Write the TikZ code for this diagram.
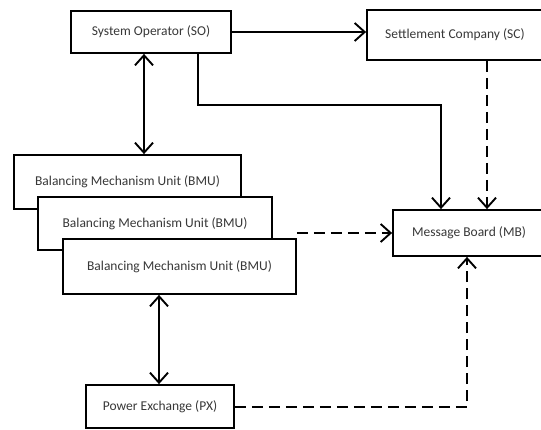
\documentclass[tikz,border=0pt]{standalone}
\usepackage{fontspec}
\setmainfont{Carlito}
\usetikzlibrary{arrows.meta}
\begin{document}
\begin{tikzpicture}[x=1pt,y=-1pt,
  box/.style={draw, fill=white, line width=1.8pt, inner sep=0pt,
    font=\fontsize{13.5}{16}\selectfont, text=black!78},
  link/.style={line width=1.8pt},
  barb/.tip={Straight Barb[length=10pt,width=18pt,line width=1.9pt]},
  tip/.style={-barb},
  twotip/.style={barb-barb},
  dashline/.style={dash pattern=on 11pt off 6pt}]
\useasboundingbox (0,0) rectangle (541,430);
\clip (0,0) rectangle (541,430);

% boxes
\node[box, minimum width=160pt, minimum height=42pt] (SO) at (151,32) {System Operator (SO)};
\node[box, minimum width=176pt, minimum height=50pt] (SC) at (455,35) {Settlement Company (SC)};
\node[box, minimum width=152pt, minimum height=46pt] (MB) at (469,233) {Message Board (MB)};
\node[box, minimum width=227pt, minimum height=54pt] (BMU1) at (127.5,182) {Balancing Mechanism Unit (BMU)};
\node[box, minimum width=234pt, minimum height=53pt] (BMU2) at (155,223.5) {Balancing Mechanism Unit (BMU)};
\node[box, minimum width=233pt, minimum height=55pt] (BMU3) at (179.5,266.5) {Balancing Mechanism Unit (BMU)};
\node[box, minimum width=148pt, minimum height=43pt] (PX) at (160,406.5) {Power Exchange (PX)};

% routing guides
\coordinate (soTap) at (198,0);
\coordinate (soBend) at (441,105);
\coordinate (scDrop) at (487,0);
\coordinate (soBmu) at (144,0);
\coordinate (bmuPx) at (159,0);
\coordinate (pxRise) at (467,0);
\coordinate (bmuRow) at (0,233);
\coordinate (soRow) at (0,32);
\coordinate (pxRow) at (0,407);

% connectors
\draw[link, tip] (SO.east |- soRow) -- (SC.west |- soRow);
\draw[link, twotip] (SO.south -| soBmu) -- (BMU1.north -| soBmu);
\draw[link, tip] (SO.south -| soTap) -- (soTap |- soBend) -- (soBend) -- (soBend |- MB.north);
\draw[link, tip, dashline] (SC.south -| scDrop) -- (MB.north -| scDrop);
\draw[link, tip, dashline] (BMU3.east |- bmuRow) -- (MB.west |- bmuRow);
\draw[link, twotip] (BMU3.south -| bmuPx) -- (PX.north -| bmuPx);
\draw[link, tip, dashline] (PX.east |- pxRow) -- (pxRise |- pxRow) -- (MB.south -| pxRise);
\end{tikzpicture}
\end{document}
